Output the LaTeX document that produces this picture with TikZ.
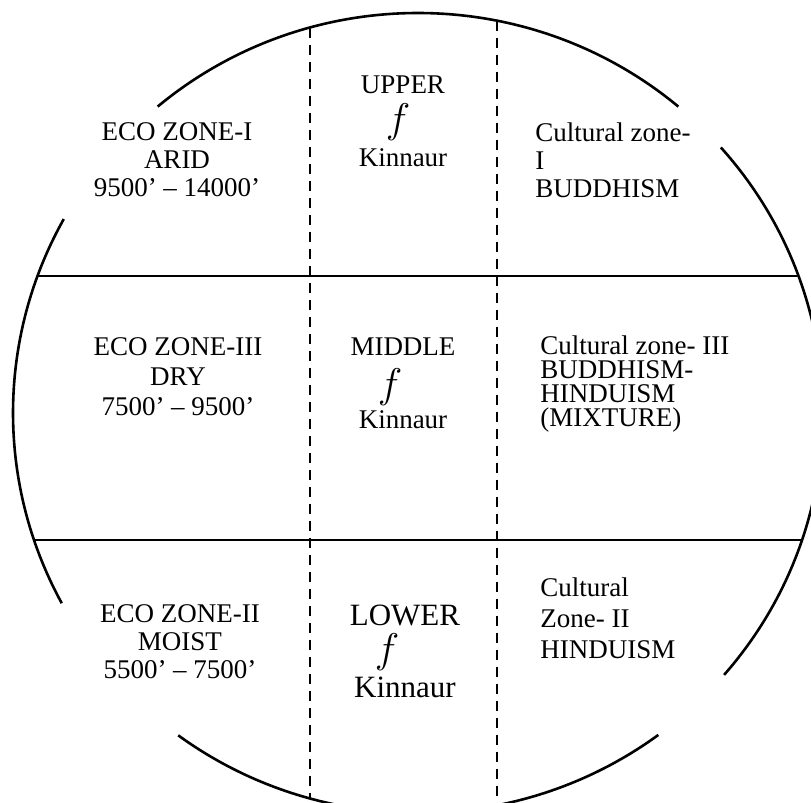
\documentclass[tikz,border=0pt]{standalone}
\usepackage{fontspec}
\setmainfont{Liberation Serif}
\usetikzlibrary{calc}

\begin{document}
\begin{tikzpicture}[
    x=0.5pt, y=0.5pt,
    rim/.style={line width=1.3pt},
    split/.style={line width=1.2pt},
    border/.style={line width=1pt, dash pattern=on 5pt off 3.5pt},
    zone/.style={align=center, inner sep=0pt},
    culture/.style={align=left, anchor=west, inner sep=0pt},
    part/.style={inner sep=0pt, font=\fontsize{13.5}{14}\selectfont},
    bigpart/.style={inner sep=0pt, font=\fontsize{15.5}{16}\selectfont},
    fsign/.style={inner sep=0pt, font=\fontsize{21}{21}\selectfont}
]
    \clip (0,0) rectangle (811,803);
    \coordinate (c) at (418,390);
    % outer rim, broken into four arcs
    \draw[rim] ($(c)+(130:405 and 400)$) arc[start angle=130, end angle=50, x radius=405, y radius=400];
    \draw[rim] ($(c)+(41.6:405 and 400)$) arc[start angle=41.6, end angle=-40.9, x radius=405, y radius=400];
    \draw[rim] ($(c)+(-53.6:405 and 400)$) arc[start angle=-53.6, end angle=-126.3, x radius=405, y radius=400];
    \draw[rim] ($(c)+(208.4:405 and 400)$) arc[start angle=208.4, end angle=151, x radius=405, y radius=400];
    % rows
    \coordinate (r1w) at ($(c)+(160:405 and 400)$);
    \coordinate (r1e) at ($(c)+(20:405 and 400)$);
    \coordinate (r2w) at ($(c)+(198.5:405 and 400)$);
    \coordinate (r2e) at ($(c)+(-18.5:405 and 400)$);
    \draw[split] (r1w) -- (r1e);
    \draw[split] (r2w) -- (r2e);
    % columns
    \coordinate (c1n) at ($(c)+(105.5:405 and 400)$);
    \coordinate (c1s) at ($(c)+(-105.5:405 and 400)$);
    \coordinate (c2n) at ($(c)+(78.75:405 and 400)$);
    \coordinate (c2s) at ($(c)+(-78.75:405 and 400)$);
    \draw[border] (c1n) -- (c1s);
    \draw[border] (c2n) -- (c2s);

    \node[zone, font=\fontsize{13.5}{14}\selectfont] (eco1) at (177,643) {ECO ZONE-I\\ARID\\9500' -- 14000'};
    \node[zone, font=\fontsize{13.5}{15}\selectfont] (eco3) at (178,426) {ECO ZONE-III\\DRY\\7500' -- 9500'};
    \node[zone, font=\fontsize{13.5}{14}\selectfont] (eco2) at (180,161) {ECO ZONE-II\\MOIST\\5500' -- 7500'};

    \node[part] (upper) at (403,718) {UPPER};
    \node[fsign] (upperf) at (398,681) {$f$};
    \node[part] (upperk) at (403,645) {Kinnaur};
    \node[part] (middle) at (403,456) {MIDDLE};
    \node[fsign] (middlef) at (390,416) {$f$};
    \node[part] (middlek) at (403,383) {Kinnaur};
    \node[bigpart] (lower) at (405,188) {LOWER};
    \node[fsign] (lowerf) at (387,151) {$f$};
    \node[bigpart] (lowerk) at (405,116) {Kinnaur};

    \node[culture, font=\fontsize{13.5}{14}\selectfont] (cult1) at (535,643) {Cultural zone-\\I\\BUDDHISM};
    \node[culture, font=\fontsize{13.5}{12}\selectfont] (cult3) at (540,419) {Cultural zone- III\\BUDDHISM-\\HINDUISM\\(MIXTURE)};
    \node[culture, font=\fontsize{13.5}{15.5}\selectfont] (cult2) at (540,185) {Cultural\\Zone- II\\HINDUISM};
\end{tikzpicture}
\end{document}
